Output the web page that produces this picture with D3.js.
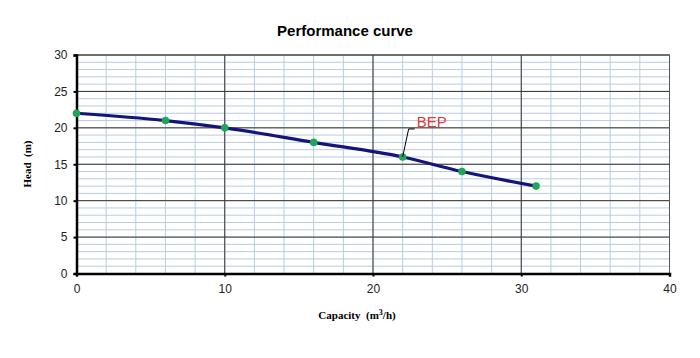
<!DOCTYPE html>
<html><head><meta charset="utf-8">
<script src="https://cdn.jsdelivr.net/npm/d3@7"></script>
<style>body{margin:0;background:#fff}svg{display:block}text{white-space:pre}</style>
</head><body>
<svg id="c" width="700" height="358"></svg>
<script>
const capacity = [0, 6, 10, 16, 22, 26, 31];
const head = [22, 21, 20, 18, 16, 14, 12];
const xTicks = [0, 10, 20, 30, 40];
const yTicks = [0, 5, 10, 15, 20, 25, 30];
const bepIndex = 4;

const svg = d3.select("#c");
const x = d3.scaleLinear().domain([0, 40]).range([76.5, 669.5]);
const y = d3.scaleLinear().domain([0, 30]).range([273.5, 55]);

// minor grid
const g = svg.append("g");
g.selectAll(".mx").data(d3.range(0, 41, 2)).enter().append("line")
  .attr("x1", d => x(d)).attr("x2", d => x(d)).attr("y1", y(0)).attr("y2", y(30))
  .attr("stroke", "#b9cce3").attr("stroke-width", 1);
g.selectAll(".my").data(d3.range(0, 31, 1)).enter().append("line")
  .attr("x1", x(0)).attr("x2", x(40)).attr("y1", d => y(d)).attr("y2", d => y(d))
  .attr("stroke", "#b9cce3").attr("stroke-width", 1);
// major grid
g.selectAll(".Mx").data(xTicks).enter().append("line")
  .attr("x1", d => x(d)).attr("x2", d => x(d)).attr("y1", y(0)).attr("y2", y(30))
  .attr("stroke", "#333").attr("stroke-width", 1);
g.selectAll(".My").data(yTicks).enter().append("line")
  .attr("x1", x(0)).attr("x2", x(40)).attr("y1", d => y(d)).attr("y2", d => y(d))
  .attr("stroke", "#333").attr("stroke-width", 1);
// border top/right
svg.append("rect").attr("x", x(0)).attr("y", y(30)).attr("width", x(40)-x(0)).attr("height", y(0)-y(30))
  .attr("fill", "none").attr("stroke", "#555").attr("stroke-width", 1);

// axes
const xAxis = svg.append("g").attr("transform", `translate(0,${y(0)})`)
  .call(d3.axisBottom(x).tickValues(xTicks).tickSize(3).tickPadding(8));
const yAxis = svg.append("g").attr("transform", `translate(${x(0)},0)`)
  .call(d3.axisLeft(y).tickValues(yTicks).tickSize(3).tickPadding(6));
[xAxis, yAxis].forEach(a => {
  a.select(".domain").attr("stroke", "#000").attr("stroke-width", 2.5);
  a.selectAll(".tick line").attr("stroke", "#000").attr("stroke-width", 2);
  a.selectAll("text").attr("font-family", "Arial, 'Liberation Sans', sans-serif").attr("font-size", 12).attr("fill", "#222");
});

// curve
const pts = capacity.map((c, i) => [c, head[i]]);
svg.append("path").datum(pts)
  .attr("d", d3.line().x(d => x(d[0])).y(d => y(d[1])).curve(d3.curveMonotoneX))
  .attr("fill", "none").attr("stroke", "#14147a").attr("stroke-width", 3.2);
svg.selectAll(".pt").data(pts).enter().append("circle")
  .attr("cx", d => x(d[0])).attr("cy", d => y(d[1])).attr("r", 3.8)
  .attr("fill", "#1fa65a");

// BEP label
const bx = x(capacity[bepIndex]), by = y(head[bepIndex]);
svg.append("path").attr("d", `M${bx},${by} L${bx+6},${by-28} L${bx+12},${by-28}`)
  .attr("fill", "none").attr("stroke", "#000").attr("stroke-width", 1);
svg.append("text").attr("x", bx + 14).attr("y", by - 30).text("BEP")
  .attr("font-family", "Arial, 'Liberation Sans', sans-serif").attr("font-size", 15).attr("fill", "#e0393e");

// title
svg.append("text").attr("x", 345).attr("y", 36).attr("text-anchor", "middle").text("Performance curve")
  .attr("font-family", "Arial, 'Liberation Sans', sans-serif").attr("font-size", 15).attr("font-weight", "bold");

// axis titles
const xt = svg.append("text").attr("x", 357).attr("y", 319).attr("text-anchor", "middle")
  .attr("font-family", "'Times New Roman', 'Liberation Serif', serif").attr("font-size", 11).attr("font-weight", "bold");
xt.append("tspan").text("Capacity  (m");
xt.append("tspan").attr("font-size", 8).attr("dy", -4).text("3");
xt.append("tspan").attr("dy", 4).text("/h)");
svg.append("text").attr("transform", "translate(31,164) rotate(-90)").attr("text-anchor", "middle")
  .text("Head  (m)")
  .attr("font-family", "'Times New Roman', 'Liberation Serif', serif").attr("font-size", 11).attr("font-weight", "bold");
</script>
</body></html>
